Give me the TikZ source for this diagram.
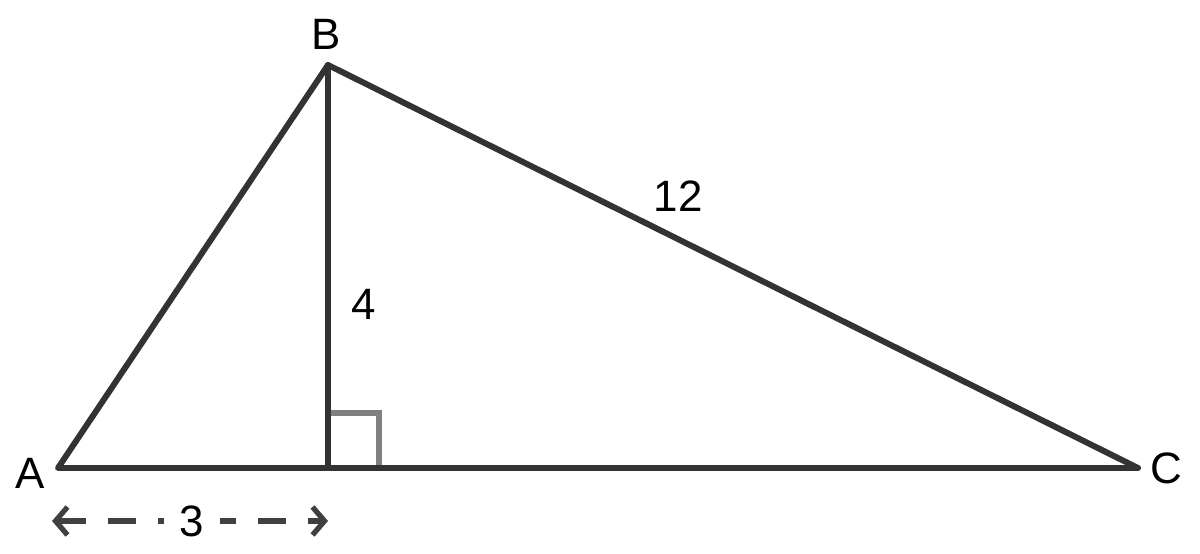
\documentclass[tikz,border=0pt]{standalone}
\usepackage{fontspec}
\setmainfont{Liberation Sans}
\usetikzlibrary{arrows.meta, positioning}

\begin{document}
\begin{tikzpicture}[
    side/.style={draw=black!80, line width=3.4pt, line cap=round, line join=round},
    rightmark/.style={draw=black!50, line width=3pt},
    dim/.style={draw=black!75, line width=3pt, dash pattern=on 0.56cm off 0.44cm, {Straight Barb[length=0.24cm, width=0.56cm]}-{Straight Barb[length=0.24cm, width=0.56cm]}},
    lbl/.style={font=\fontsize{25}{28}\selectfont, inner sep=1pt}
]
\useasboundingbox (0,0) rectangle (24,11.06);
\coordinate (A) at (1.16,1.70);
\coordinate (B) at (6.56,9.76);
\coordinate (D) at (6.56,1.70);
\coordinate (C) at (22.76,1.70);

% right angle at the foot of the height
\draw[rightmark] (6.56,2.80) -- (7.58,2.80) -- (7.58,1.70);

\draw[side] (A) -- (B) -- (C) -- cycle;
\draw[side] (B) -- (D);

\node[lbl] (labA) at (0.60,1.60) {A};
\node[lbl] (labB) at (6.52,10.38) {B};
\node[lbl] (labC) at (23.32,1.70) {C};
\node[lbl] (lenBC) at (13.56,7.14) {12};
\node[lbl] (lenBD) at (7.28,4.98) {4};

% base length
\coordinate (dimL) at (1.04,0.64);
\coordinate (dimR) at (6.56,0.64);
\draw[dim] (dimL) -- (dimR);
\node[lbl, fill=white, inner xsep=9pt] (lenAD) at (3.84,0.64) {3};
\end{tikzpicture}
\end{document}
